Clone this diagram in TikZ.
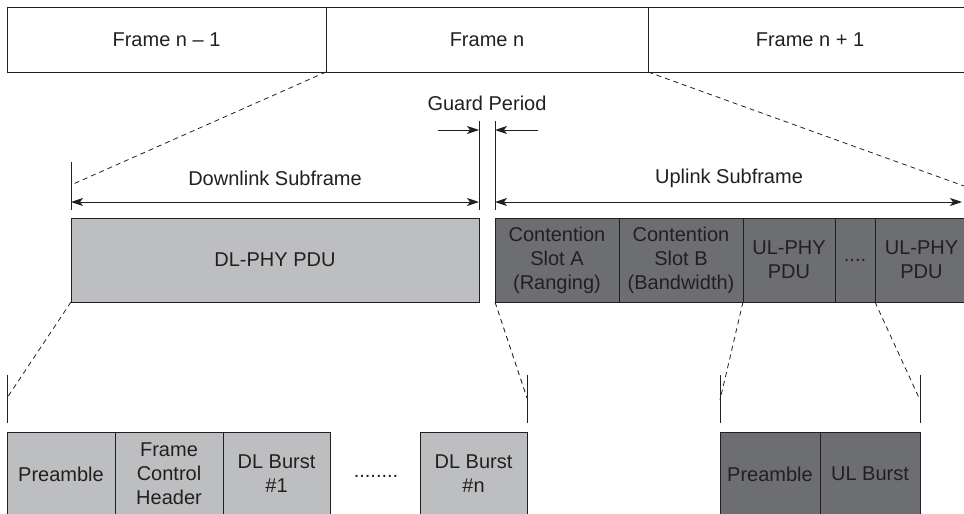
\documentclass[tikz,border=0pt]{standalone}
\usepackage{fontspec}
\setmainfont{Liberation Sans}
\usepackage{xcolor}
\usepackage{tikz}
\usetikzlibrary{arrows.meta, positioning, calc}
\definecolor{dlgray}{RGB}{189, 190, 192}
\definecolor{ulgray}{RGB}{109, 110, 113}
\definecolor{inkgray}{RGB}{35, 31, 32}
\tikzstyle{field} = [rectangle, draw=inkgray, text=inkgray, anchor=north west, align=center, inner sep=0pt, outer sep=0pt, line width=1pt, font=\fontsize{20}{24}\selectfont]
\tikzstyle{dlfield} = [field, fill=dlgray]
\tikzstyle{ulfield} = [field, fill=ulgray]
\tikzstyle{spantext} = [text=inkgray, inner sep=0pt, font=\fontsize{20}{24}\selectfont]
\tikzstyle{zoomline} = [draw=inkgray, line width=0.8pt, dash pattern=on 5pt off 4pt]
\tikzstyle{edgetick} = [draw=inkgray, line width=1pt]
\tikzstyle{spanarrow} = [{Stealth[length=12pt, width=8pt, inset=3pt]}-{Stealth[length=12pt, width=8pt, inset=3pt]}, draw=inkgray, line width=1pt]
\tikzstyle{arrow} = [-{Stealth[length=12pt, width=8pt, inset=3pt]}, draw=inkgray, line width=1pt]

\begin{document}
\begin{tikzpicture}[x=1pt, y=-1pt]
    \useasboundingbox (0,0) rectangle (964,514);

    % Frames
    \node[field, minimum width=319, minimum height=65] (prevframe) at (7,7) {Frame n -- 1};
    \node[field, minimum width=322, minimum height=65] (curframe) at (prevframe.north east) {Frame n};
    \node[field, minimum width=324, minimum height=65] (nextframe) at (curframe.north east) {Frame n + 1};

    % Subframe limits
    \coordinate (dlzoom) at (71,185);
    \coordinate (ulzoom) at (964,186);
    \coordinate (dltop) at (71,162);
    \coordinate (dlbot) at (71,210);
    \coordinate (guardltop) at (479,121);
    \coordinate (guardlbot) at (479,210);
    \coordinate (guardrtop) at (495,121);
    \coordinate (guardrbot) at (495,210);
    \coordinate (guardlin) at (438,130);
    \coordinate (guardlend) at (479,130);
    \coordinate (guardrin) at (538,130);
    \coordinate (guardrend) at (495,130);
    \coordinate (dlstart) at (71,202);
    \coordinate (dlend) at (479,202);
    \coordinate (ulstart) at (495,202);
    \coordinate (ulend) at (962,202);

    % Labels
    \node[spantext] (guard) at (487,103) {Guard Period};
    \node[spantext] (dllabel) at (275,178) {Downlink Subframe};
    \node[spantext] (ullabel) at (729,178) {Uplink Subframe};

    % Downlink subframe
    \node[dlfield, minimum width=408, minimum height=84] (dlpdu) at (71,218) {DL-PHY PDU};

    % Uplink subframe
    \node[ulfield, minimum width=124, minimum height=84] (slota) at (495,218) {Contention\\Slot A\\(Ranging)};
    \node[ulfield, minimum width=124, minimum height=84] (slotb) at (slota.north east) {Contention\\Slot B\\(Bandwidth)};
    \node[ulfield, minimum width=92, minimum height=84] (ulpdua) at (slotb.north east) {UL-PHY\\PDU};
    \node[ulfield, minimum width=40, minimum height=84] (uldots) at (ulpdua.north east) {....};
    \node[ulfield, minimum width=93, minimum height=84] (ulpdub) at (uldots.north east) {UL-PHY\\PDU};

    % Downlink PDU
    \node[dlfield, minimum width=108, minimum height=84] (dlpre) at (7,432) {Preamble};
    \node[dlfield, minimum width=108, minimum height=84] (fch) at (dlpre.north east) {Frame\\Control\\Header};
    \node[dlfield, minimum width=107, minimum height=84] (burst1) at (fch.north east) {DL Burst\\\#1};
    \node[spantext] (dldots) at (376,476) {........};
    \node[dlfield, minimum width=107, minimum height=84] (burstn) at (420,432) {DL Burst\\\#n};

    % Uplink PDU
    \node[ulfield, minimum width=100, minimum height=84] (ulpre) at (720,432) {Preamble};
    \node[ulfield, minimum width=100, minimum height=84] (ulburst) at (ulpre.north east) {UL Burst};

    % PDU limits
    \coordinate (pdu1top) at (7,375);
    \coordinate (pdu1bot) at (7,423);
    \coordinate (pdu1zoom) at (7,398);
    \coordinate (pdu2top) at (527,375);
    \coordinate (pdu2bot) at (527,423);
    \coordinate (pdu2zoom) at (527,398);
    \coordinate (pdu3top) at (720,375);
    \coordinate (pdu3bot) at (720,423);
    \coordinate (pdu3zoom) at (720,400);
    \coordinate (pdu4top) at (920,375);
    \coordinate (pdu4bot) at (920,423);
    \coordinate (pdu4zoom) at (920,400);

    % Ticks
    \draw[edgetick] (dltop) -- (dlbot);
    \draw[edgetick] (guardltop) -- (guardlbot);
    \draw[edgetick] (guardrtop) -- (guardrbot);
    \draw[edgetick] (pdu1top) -- (pdu1bot);
    \draw[edgetick] (pdu2top) -- (pdu2bot);
    \draw[edgetick] (pdu3top) -- (pdu3bot);
    \draw[edgetick] (pdu4top) -- (pdu4bot);

    % Arrows
    \draw[arrow] (guardlin) -- (guardlend);
    \draw[arrow] (guardrin) -- (guardrend);
    \draw[spanarrow] (dlstart) -- (dlend);
    \draw[spanarrow] (ulstart) -- (ulend);

    % Zoom lines
    \draw[zoomline] (curframe.south west) -- (dlzoom);
    \draw[zoomline] (curframe.south east) -- (ulzoom);
    \draw[zoomline] (dlpdu.south west) -- (pdu1zoom);
    \draw[zoomline] (slota.south west) -- (pdu2zoom);
    \draw[zoomline] (slotb.south east) -- (pdu3zoom);
    \draw[zoomline] (uldots.south east) -- (pdu4zoom);
\end{tikzpicture}
\end{document}
